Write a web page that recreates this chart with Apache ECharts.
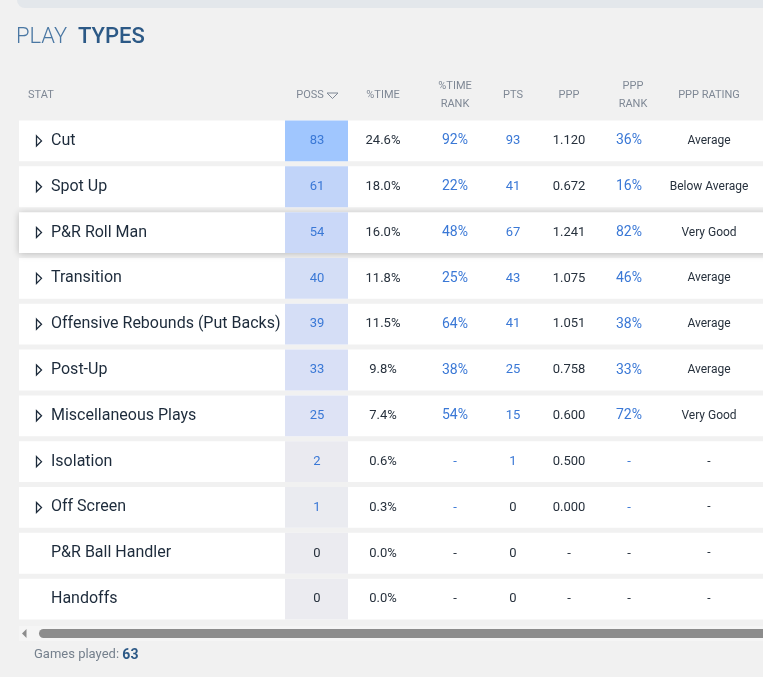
<!DOCTYPE html>
<html>
<head>
<meta charset="utf-8">
<script src="https://cdn.jsdelivr.net/npm/echarts@6/dist/echarts.min.js"></script>
<style>
  html, body { margin: 0; padding: 0; background: #f1f1f1; }
  #chart { width: 763px; height: 677px; }
</style>
</head>
<body>
<div id="chart"></div>
<script>
// ---------- DATA ----------
const playTypes = ['Cut', 'Spot Up', 'P&R Roll Man', 'Transition', 'Offensive Rebounds (Put Backs)',
  'Post-Up', 'Miscellaneous Plays', 'Isolation', 'Off Screen', 'P&R Ball Handler', 'Handoffs'];
const expandable = [true, true, true, true, true, true, true, true, true, false, false];
const poss = [83, 61, 54, 40, 39, 33, 25, 2, 1, 0, 0];
const pctTime = [24.6, 18.0, 16.0, 11.8, 11.5, 9.8, 7.4, 0.6, 0.3, 0.0, 0.0];
const pctTimeRank = [92, 22, 48, 25, 64, 38, 54, null, null, null, null];
const pts = [93, 41, 67, 43, 41, 25, 15, 1, 0, 0, 0];
const ppp = [1.120, 0.672, 1.241, 1.075, 1.051, 0.758, 0.600, 0.500, 0.000, null, null];
const pppRank = [36, 16, 82, 46, 38, 33, 72, null, null, null, null];
const pppRating = ['Average', 'Below Average', 'Very Good', 'Average', 'Average', 'Average', 'Very Good', null, null, null, null];
const columns = ['STAT', 'POSS', '%TIME', '%TIME\nRANK', 'PTS', 'PPP', 'PPP\nRANK', 'PPP RATING'];
const titleWords = ['PLAY', 'TYPES'];
const gamesPlayed = 63;

// ---------- LAYOUT / STYLE ----------
const COLX = [28, 317, 383, 455, 513, 569, 629, 709];
const HEAD_X = [28, 310, 383, 455, 513, 569, 633, 709];
const BLUE = '#3a78d6';
const DARK = '#27313d';
const NAVY = '#1d2b3b';
const FONT = 'Roboto, "Noto Sans", sans-serif';
const HOVER_ROW = 2;

// build text cells from the data arrays
const cells = [];
playTypes.forEach((name, i) => {
  const active = poss[i] > 0;
  cells.push({ col: 1, row: i, text: String(poss[i]), color: poss[i] > 0 ? BLUE : DARK, size: 13 });
  cells.push({ col: 2, row: i, text: pctTime[i].toFixed(1) + '%', color: DARK, size: 13 });
  cells.push({ col: 3, row: i, text: pctTimeRank[i] == null ? '-' : pctTimeRank[i] + '%', color: active ? BLUE : DARK, size: pctTimeRank[i] == null ? 13 : 14 });
  cells.push({ col: 4, row: i, text: String(pts[i]), color: pts[i] > 0 ? BLUE : DARK, size: 13 });
  cells.push({ col: 5, row: i, text: ppp[i] == null ? '-' : ppp[i].toFixed(3), color: DARK, size: 13 });
  cells.push({ col: 6, row: i, text: pppRank[i] == null ? '-' : pppRank[i] + '%', color: active ? BLUE : DARK, size: pppRank[i] == null ? 13 : 14 });
  cells.push({ col: 7, row: i, text: pppRating[i] == null ? '-' : pppRating[i], color: DARK, size: 12 });
});

const chart = echarts.init(document.getElementById('chart'), null, { renderer: 'canvas' });

// header graphics built from columns array
const headerGraphics = columns.map((c, j) => ({
  type: 'text',
  x: HEAD_X[j],
  y: 95,
  style: {
    text: c,
    fill: '#7f8895',
    font: '11px ' + FONT,
    align: j === 0 ? 'left' : 'center',
    verticalAlign: 'middle',
    lineHeight: 18
  }
}));

const option = {
  backgroundColor: '#f1f1f1',
  animation: false,
  grid: { left: 0, right: 0, top: 118, height: 504, containLabel: false },
  xAxis: { type: 'value', min: 0, max: 763, show: false },
  yAxis: { type: 'category', data: playTypes, inverse: true, show: false },
  visualMap: {
    type: 'continuous', show: false, seriesIndex: 1, dimension: 1,
    min: 0, max: 83,
    inRange: { color: ['#ebebf0', '#dde2f5', '#c9d8f8', '#a0c6fe'] }
  },
  graphic: [
    { type: 'rect', shape: { x: 17, y: -12, width: 760, height: 20, r: 8 }, style: { fill: '#e3e7eb' } },
    { type: 'text', x: 16, y: 37, style: { text: titleWords[0], font: '300 22px ' + FONT, fill: '#4a77a3', verticalAlign: 'middle' } },
    { type: 'text', x: 78, y: 37, style: { text: titleWords[1], font: '500 22px ' + FONT, fill: '#2c5986', verticalAlign: 'middle' } },
    ...headerGraphics,
    { type: 'polyline', shape: { points: [[327, 93], [338, 93], [332.5, 98.5], [327, 93]] }, style: { stroke: '#7f8895', fill: 'none', lineWidth: 1 } },
    // scrollbar
    { type: 'rect', shape: { x: 19, y: 626, width: 750, height: 15 }, style: { fill: '#f5f5f5' } },
    { type: 'polygon', shape: { points: [[22, 633.5], [26.5, 629], [26.5, 638]] }, style: { fill: '#8c8c8c' } },
    { type: 'rect', shape: { x: 39, y: 629, width: 740, height: 9, r: 4.5 }, style: { fill: '#8c8c8c' } },
    {
      type: 'text', x: 34, y: 655,
      style: {
        text: '{a|Games played:} {b|' + gamesPlayed + '}',
        verticalAlign: 'middle',
        rich: {
          a: { font: '13px ' + FONT, fill: '#75808d' },
          b: { font: 'bold 14px ' + FONT, fill: '#2c5986' }
        }
      }
    }
  ],
  series: [
    {
      // row backgrounds + names
      type: 'custom',
      clip: false,
      data: playTypes.map((n, i) => [0, i]),
      encode: { x: 0, y: 1 },
      renderItem: function (params, api) {
        const i = api.value(1);
        const p = api.coord([0, i]);
        const band = api.size([0, 1])[1];
        const h = band - 5;
        const cy = p[1];
        const children = [{
          type: 'rect',
          shape: { x: 19, y: cy - h / 2, width: 760, height: h },
          style: i === HOVER_ROW
            ? { fill: '#ffffff', shadowBlur: 7, shadowColor: 'rgba(0,0,0,0.22)', shadowOffsetY: 1 }
            : { fill: '#ffffff' },
          z2: i === HOVER_ROW ? 5 : 0
        }];
        if (expandable[i]) {
          children.push({
            type: 'polygon',
            shape: { points: [[36.5, cy - 5], [41.5, cy], [36.5, cy + 5]] },
            style: { fill: '#ffffff', stroke: NAVY, lineWidth: 1.3 },
            z2: 6
          });
        }
        children.push({
          type: 'text',
          style: { x: 51, y: cy, text: playTypes[i], fill: NAVY, font: '16px ' + FONT, align: 'left', verticalAlign: 'middle' },
          z2: 6
        });
        return { type: 'group', children: children };
      }
    },
    {
      // POSS heat cells
      type: 'custom',
      clip: false,
      z: 3,
      data: poss.map((v, i) => [i, v]),
      encode: { y: 0 },
      renderItem: function (params, api) {
        const i = api.value(0);
        const p = api.coord([0, i]);
        const h = api.size([0, 1])[1] - 5;
        return {
          type: 'rect',
          shape: { x: 285, y: p[1] - h / 2, width: 63, height: h },
          style: { fill: api.visual('color') }
        };
      }
    },
    {
      // text cells
      type: 'custom',
      clip: false,
      z: 4,
      data: cells.map(c => [c.col, c.row]),
      encode: { x: 0, y: 1 },
      renderItem: function (params, api) {
        const c = cells[params.dataIndex];
        const p = api.coord([COLX[c.col], c.row]);
        return {
          type: 'text',
          style: { x: p[0], y: p[1], text: c.text, fill: c.color, font: c.size + 'px ' + FONT, align: 'center', verticalAlign: 'middle' }
        };
      }
    }
  ]
};
chart.setOption(option);
</script>
</body>
</html>
